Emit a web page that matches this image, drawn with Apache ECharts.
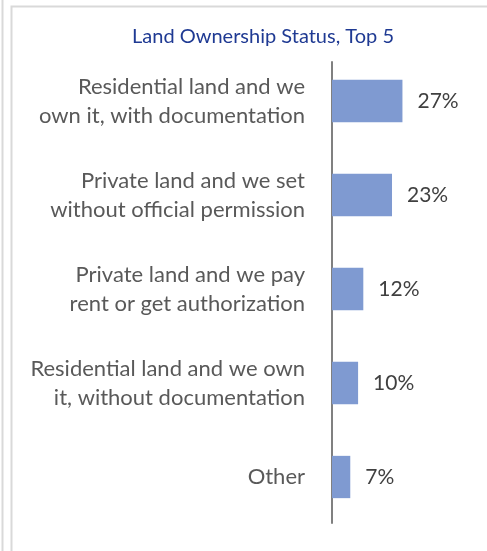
<!DOCTYPE html>
<html><head><meta charset="utf-8">
<script src="https://cdn.jsdelivr.net/npm/echarts@6/dist/echarts.min.js"></script>
<style>html,body{margin:0;padding:0;background:#fff}#c{width:487px;height:551px}</style>
</head><body><div id="c"></div>
<script>
const title = 'Land Ownership Status, Top 5';
const categories = [
  'Residential land and we\nown it, with documentation',
  'Private land and we set\nwithout official permission',
  'Private land and we pay\nrent or get authorization',
  'Residential land and we own\nit, without documentation',
  'Other'
];
const values = [27, 23, 12, 10, 7];

const chart = echarts.init(document.getElementById('c'), null, {renderer: 'canvas'});
const FONT = 'Lato';
chart.setOption({
  backgroundColor: '#fff',
  animation: false,
  title: {
    text: title, left: 258, top: 22, textAlign: 'center',
    textStyle: {color: '#1F3A93', fontSize: 20, fontWeight: 'normal', fontFamily: FONT}
  },
  graphic: [
    {type: 'line', shape: {x1: 2.5, y1: 0, x2: 2.5, y2: 551}, style: {stroke: '#d9d9d9', lineWidth: 2}},
    {type: 'polyline', shape: {points: [[11.5, 551], [11.5, 6.5], [487, 6.5]]}, style: {stroke: '#d9d9d9', lineWidth: 2, fill: null}}
  ],
  grid: [
    {left: 332, top: 54, width: 143.5, height: 470},
    {left: 332, top: 62, width: 143.5, height: 461}
  ],
  xAxis: [
    {type: 'value', gridIndex: 0, min: 0, max: 55, show: false},
    {type: 'value', gridIndex: 1, min: 0, max: 55, show: false}
  ],
  yAxis: [
    {type: 'category', gridIndex: 0, data: categories, inverse: true,
     axisLine: {show: false}, axisTick: {show: false},
     axisLabel: {color: '#595959', fontSize: 22, fontFamily: FONT, lineHeight: 29, align: 'right', margin: 27}},
    {type: 'category', gridIndex: 1, data: [],
     axisLine: {show: true, lineStyle: {color: '#808080', width: 2}}, axisTick: {show: false}, axisLabel: {show: false}}
  ],
  series: [{
    type: 'bar', xAxisIndex: 0, yAxisIndex: 0, data: values,
    barCategoryGap: '55%',
    itemStyle: {color: '#7F9AD1'},
    label: {show: true, position: 'right', distance: 15, formatter: p => p.value + '%',
            color: '#404040', fontSize: 21, fontFamily: FONT}
  }]
});
</script></body></html>
